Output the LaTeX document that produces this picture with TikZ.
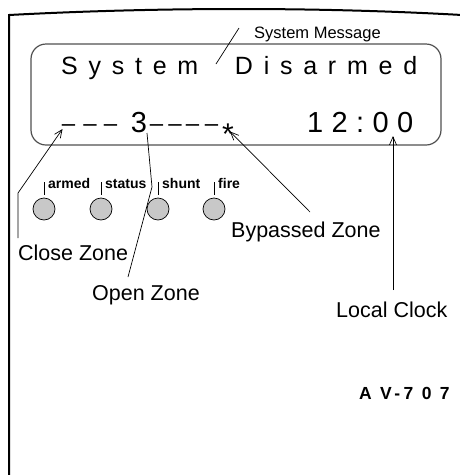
\documentclass[tikz,border=0pt]{standalone}
\usepackage{fontspec}
\setmainfont{Liberation Sans}
\newfontfamily\lcdA[LetterSpace=43]{Liberation Sans}
\newfontfamily\lcdB[LetterSpace=29]{Liberation Sans}
\newfontfamily\modelfont[LetterSpace=20]{Liberation Sans}
\usetikzlibrary{arrows.meta}
\definecolor{ledgray}{RGB}{200,200,200}
\definecolor{lcdgray}{RGB}{80,80,80}
\begin{document}
\begin{tikzpicture}[x=1pt,y=-1pt,
  lbl/.style={inner sep=0pt, anchor=base west, font=\fontsize{21.5}{24}\selectfont},
  conn/.style={line width=0.7pt},
  arr/.style={conn, -{Straight Barb[length=8pt,width=7pt]}},
  led/.style={circle, draw, fill=ledgray, minimum size=22pt, inner sep=0pt, line width=0.7pt},
  ledlbl/.style={inner sep=0pt, anchor=base west, font=\fontsize{14}{16}\selectfont\bfseries},
  tick/.style={line width=0.7pt},
  dashch/.style={inner sep=0pt, anchor=base, font=\fontsize{24}{26}\selectfont},
  big/.style={inner sep=0pt, anchor=base, font=\fontsize{29}{32}\selectfont}]
\useasboundingbox (0,0) rectangle (460,475);
% outer housing
\draw[line width=2pt] (9,477) -- (9,15) .. controls (160,7) and (320,7) .. (462,15);
% LCD window
\node[draw=lcdgray, line width=1.2pt, rounded corners=15pt, minimum width=410pt, minimum height=101pt, inner sep=0pt] (lcd) at (236,94.5) {};
% display texts
\node[inner sep=0pt, anchor=base west, font=\lcdA\fontsize{25}{28}\selectfont] (disarm) at (61,74) {System\hspace{19pt} Disarmed};
\node[inner sep=0pt, anchor=base west, font=\lcdB\fontsize{29}{32}\selectfont] (clock) at (307,132) {12:00};
\foreach \x [count=\i] in {68.5,90,110.5} \node[dashch] (da\i) at (\x,131) {–};
\node[big] (three) at (139,132) {3};
\foreach \x [count=\i] in {156.5,175,192.5,211.5} \node[dashch] (db\i) at (\x,131) {–};
\node[inner sep=0pt, anchor=base, font=\fontsize{30}{32}\selectfont] (star) at (228,144) {*};
% labels
\node[inner sep=0pt, anchor=base west, font=\fontsize{16.5}{18}\selectfont] (sysmsg) at (254,38) {System Message};
\node[lbl] (close) at (18,260) {Close Zone};
\node[lbl] (open) at (92,300) {Open Zone};
\node[lbl] (bypass) at (231,237) {Bypassed Zone};
\node[lbl] (local) at (336,317) {Local Clock};
\node[inner sep=0pt, anchor=base west, font=\modelfont\fontsize{17.5}{19}\selectfont\bfseries] (model) at (359,399) {A V-7 0 7};
% LEDs
\foreach \x/\t [count=\i] in {44/armed,101/status,158/shunt,214/fire} {
  \node[led] (led\i) at (\x,209) {};
  \coordinate (tk\i) at (\x,182);
  \draw[tick] (tk\i) -- (led\i.north |- 0,195);
  \node[ledlbl] (ll\i) at (\x+4,188) {\t};
}
% connectors
\coordinate (smA) at (239,28);
\coordinate (smB) at (216,64);
\draw[conn] (smA) -- (smB);
\coordinate (cz1) at (18,238);
\coordinate (cz2) at (18,193);
\coordinate (czT) at (62.5,129);
\draw[arr] (cz1) -- (cz2) -- (czT);
\coordinate (oz1) at (147,133);
\coordinate (oz2) at (152,187);
\coordinate (oz3) at (128,277);
\draw[conn] (oz1) -- (oz2) -- (oz3);
\coordinate (bz1) at (310,212);
\coordinate (bzT) at (230,131.5);
\draw[arr] (bz1) -- (bzT);
\coordinate (lc1) at (393,290);
\coordinate (lcT) at (393,136);
\draw[arr] (lc1) -- (lcT);
\end{tikzpicture}
\end{document}
